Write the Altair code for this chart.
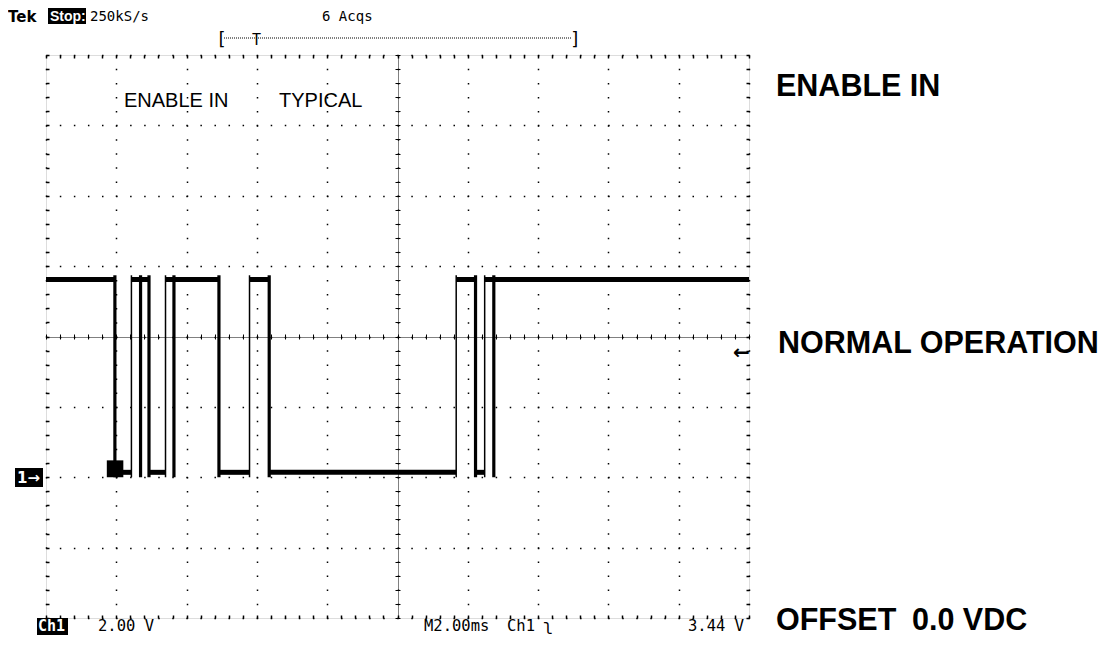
import altair as alt
import pandas as pd

# ---- waveform (time in ms, level in V) ----
HIGH_V = 5.62
LOW_V = 0.14
high_start = [0.0, 2.43, 3.40, 5.79, 11.67, 12.48]
high_end = [1.97, 2.95, 4.93, 6.37, 12.23, 20.0]
low_start = [1.96, 2.94, 4.92, 6.35, 12.22]
low_end = [2.43, 3.40, 5.79, 11.67, 12.48]
edge_t = [1.96, 2.43, 2.69, 2.93, 3.40, 3.64, 4.92, 5.79, 6.35, 11.67, 12.22, 12.48, 12.74]
edge_kind = ["fall", "rise", "fall", "fall", "rise", "fall", "fall", "rise", "fall", "rise", "fall", "rise", "fall"]
glitch_t = [1.73, 2.20]
glitch_v = [0.0, 0.48]

levels = pd.DataFrame({
    "t0": high_start + low_start,
    "t1": high_end + low_end,
    "v": [HIGH_V] * len(high_start) + [LOW_V] * len(low_start),
})
edges = pd.DataFrame({"t": edge_t, "kind": edge_kind, "v0": [0.0] * len(edge_t), "v1": [HIGH_V + 0.12] * len(edge_t)})
glitch = pd.DataFrame({"t0": [glitch_t[0]], "t1": [glitch_t[1]], "v0": [glitch_v[0]], "v1": [glitch_v[1]]})

W, H = 703, 563
xs = alt.Scale(domain=[0, 20], nice=False, zero=False)
ys = alt.Scale(domain=[-4, 12], nice=False, zero=False)
x_major = [i * 2 for i in range(11)]
y_major = [-4 + i * 2 for i in range(9)]
x_minor = [round(i * 0.4, 2) for i in range(51)]
y_minor = [round(-4 + i * 0.4, 2) for i in range(41)]

def ax(**kw):
    base = dict(title=None, labels=False, domain=False, ticks=False, grid=False)
    base.update(kw)
    return alt.Axis(**base)

# layer A: dotted graticule + horizontal levels
lay_levels = alt.Chart(levels).mark_rule(color="black", strokeWidth=5).encode(
    x=alt.X("t0:Q", scale=xs, axis=ax(orient="bottom", values=x_major, grid=True, gridColor="black",
                                      gridOpacity=1, gridWidth=1.5, gridDash=[1.5, H / 40 - 1.5], gridDashOffset=0.75)),
    x2="t1:Q",
    y=alt.Y("v:Q", scale=ys, axis=ax(orient="left", values=y_major, grid=True, gridColor="black",
                                     gridOpacity=1, gridWidth=1.5, gridDash=[1.5, W / 50 - 1.5], gridDashOffset=0.75)),
)

# layer B: vertical edges + bottom/left border ticks
lay_edges = alt.Chart(edges).mark_rule(color="black").encode(
    x=alt.X("t:Q", scale=xs, axis=ax(orient="bottom", values=x_minor, ticks=True, tickSize=3, offset=-3,
                                     tickColor="black", tickWidth=1.5)),
    y=alt.Y("v0:Q", scale=ys, axis=ax(orient="left", values=y_minor, ticks=True, tickSize=3, offset=-3,
                                      tickColor="black", tickWidth=1.5)),
    y2="v1:Q",
    strokeWidth=alt.StrokeWidth("kind:N", scale=alt.Scale(domain=["rise", "fall"], range=[1.5, 3.2]), legend=None),
)

# layer C: glitch block + top/right border ticks
lay_glitch = alt.Chart(glitch).mark_rect(color="black").encode(
    x=alt.X("t0:Q", scale=xs, axis=ax(orient="top", values=x_minor, ticks=True, tickSize=3, offset=-3,
                                      tickColor="black", tickWidth=1.5)),
    x2="t1:Q",
    y=alt.Y("v0:Q", scale=ys, axis=ax(orient="right", values=y_minor, ticks=True, tickSize=3, offset=-3,
                                      tickColor="black", tickWidth=1.5)),
    y2="v1:Q",
)

# layer D: cross ticks on the centre lines
lay_ticks = alt.Chart(levels).mark_point(opacity=0).encode(
    x=alt.X("t0:Q", scale=xs, axis=ax(orient="bottom", values=x_minor, ticks=True, tickSize=5,
                                      offset=-(H / 2 + 2.5), tickColor="black", tickWidth=1)),
    y=alt.Y("v:Q", scale=ys, axis=ax(orient="left", values=y_minor, ticks=True, tickSize=5,
                                     offset=-(W / 2 + 2.5), tickColor="black", tickWidth=1)),
)

# layer E: densely dotted centre lines
lay_center = alt.Chart(levels).mark_point(opacity=0).encode(
    x=alt.X("t1:Q", scale=xs, axis=ax(orient="bottom", values=[10], grid=True, gridColor="black",
                                      gridOpacity=1, gridWidth=1, gridDash=[1, 1])),
    y=alt.Y("v:Q", scale=ys, axis=ax(orient="left", values=[4], grid=True, gridColor="black",
                                     gridOpacity=1, gridWidth=1, gridDash=[1, 1])),
)

MONO = "DejaVu Sans Mono"
SANS = "Liberation Sans"

def txt(s, x, y, size=15, font=MONO, weight="normal", color="black", align="left"):
    return alt.Chart().mark_text(text=s, font=font, fontSize=size, fontWeight=weight, color=color,
                                 align=align, baseline="middle").encode(x=alt.value(x), y=alt.value(y))

def box(x0, x1, y0, y1):
    return alt.Chart().mark_rect(color="black").encode(x=alt.value(x0), x2=alt.value(x1),
                                                       y=alt.value(y0), y2=alt.value(y1))

BOT = 571
annotations = [
    txt("Tek", -38, -38, size=15, font="DejaVu Sans", weight="bold"),
    box(2, 40, -47, -31),
    txt("Stop:", 4, -38, size=14, font=SANS, weight="bold", color="white"),
    txt("250kS/s", 44, -38, size=14),
    txt("6 Acqs", 276, -38, size=14),
    txt("[", 170, -15, size=18),
    txt("]", 524, -15, size=18),
    alt.Chart().mark_rule(color="black", strokeDash=[1, 1], strokeWidth=1).encode(
        x=alt.value(178), x2=alt.value(526), y=alt.value(-17)),
    txt("T", 206, -15, size=15),
    txt("ENABLE IN", 78, 46, size=20, font=SANS),
    txt("TYPICAL", 233, 46, size=20, font=SANS),
    txt("ENABLE IN", 730, 32, size=30.5, font=SANS, weight="bold"),
    txt("NORMAL OPERATION", 732, 289, size=30.5, font=SANS, weight="bold"),
    txt("OFFSET", 730, 566, size=30.5, font=SANS, weight="bold"),
    txt("0.0 VDC", 866, 566, size=30.5, font=SANS, weight="bold"),
    box(-9, 22, BOT - 8, BOT + 9),
    txt("Ch1", -8, BOT, size=15, color="white", weight="bold"),
    txt("2.00 V", 52, BOT, size=15.5),
    txt("M2.00ms", 378, BOT, size=15.5),
    txt("Ch1", 461, BOT, size=15.5),
    txt("\u0285", 497, BOT, size=16),
    txt("3.44 V", 642, BOT, size=15.5),
    box(-31, -3, 413, 432),
    txt("1\u2192", -29, 423, size=15, font="DejaVu Sans", weight="bold", color="white"),
    txt("\u2190", 687, 298, size=20, font="DejaVu Sans", weight="bold"),
]

chart = alt.layer(lay_levels, lay_edges, lay_glitch, lay_ticks, lay_center, *annotations).resolve_axis(
    x="independent", y="independent"
).properties(
    width=W, height=H, autosize="none",
    padding={"left": 38, "top": 47, "right": 350, "bottom": 19},
).configure_view(stroke="black", strokeWidth=2).configure(background="white")

chart.save("out.html", embed_options={"renderer": "svg", "actions": False})
